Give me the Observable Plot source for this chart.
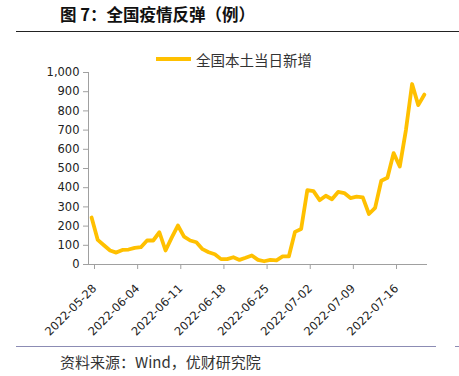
<!DOCTYPE html>
<html><head><meta charset="utf-8">
<script src="https://cdn.jsdelivr.net/npm/d3@7"></script>
<script src="https://cdn.jsdelivr.net/npm/@observablehq/plot@0.6"></script>
<style>
body{margin:0;background:#fff;}
#wrap{position:relative;width:459px;height:376px;overflow:hidden;font-family:"Noto Sans CJK SC",sans-serif;}
#title{position:absolute;left:60px;top:3px;font-size:16.5px;font-weight:bold;color:#111;line-height:22px;white-space:nowrap;}
#rule1{position:absolute;left:16px;top:31px;width:443px;height:0;border-top:1px solid #222;}
#legend{position:absolute;left:156px;top:49px;height:20px;display:flex;align-items:center;font-size:14.5px;color:#333;white-space:nowrap;}
#legend .sw{width:35px;height:3.5px;background:#FFC000;margin-right:5px;}
#chart{position:absolute;left:0;top:40px;}
#rule2{position:absolute;left:16px;top:346px;width:420px;height:0;border-top:1.5px solid #8c8cb4;}
#rule3{position:absolute;left:455px;top:346px;width:4px;height:0;border-top:1.5px solid #8c8cb4;}
#caption{position:absolute;left:60px;top:352px;font-size:15px;color:#333;line-height:20px;white-space:nowrap;}
</style></head><body>
<div id="wrap">
  <div id="title">图 7：全国疫情反弹（例）</div>
  <div id="rule1"></div>
  <div id="legend"><div class="sw"></div><span id="legendLabel"></span></div>
  <div id="chart"></div>
  <div id="rule2"></div>
  <div id="rule3"></div>
  <div id="caption">资料来源：Wind，优财研究院</div>
</div>
<script>
const seriesName = "全国本土当日新增";
const startDate = "2022-05-28";
const endDate = "2022-07-22";
const values = [245,128,100,73,62,76,78,87,90,125,125,168,73,140,203,145,125,116,80,64,53,28,28,38,24,35,47,24,17,24,22,42,42,170,185,387,382,335,358,340,378,372,346,353,350,263,295,436,452,580,510,700,940,830,885];
const xTickLabels = ["2022-05-28","2022-06-04","2022-06-11","2022-06-18","2022-06-25","2022-07-02","2022-07-09","2022-07-16"];
const yTicks = [0,100,200,300,400,500,600,700,800,900,1000];

document.getElementById("legendLabel").textContent = seriesName;

const parse = d3.utcParse("%Y-%m-%d");
const days = d3.utcDay.range(parse(startDate), parse(endDate));
const data = values.map((v, i) => ({date: d3.utcHour.offset(days[i], 12), value: v}));
const xTicks = xTickLabels.map(parse);

const chart = Plot.plot({
  width: 459, height: 306,
  marginLeft: 88, marginRight: 32, marginTop: 32, marginBottom: 82,
  x: {type: "utc", domain: [parse(startDate), parse(endDate)]},
  y: {domain: [0, 1000]},
  style: {fontFamily: "DejaVu Sans, sans-serif", fontSize: "11.5px", color: "#333", background: "transparent"},
  marks: [
    Plot.axisY({ticks: yTicks, tickFormat: d3.format(","), tickSize: 5, tickPadding: 4, stroke: "#a0a0a0", fill: "#222", label: null}),
    Plot.axisX({ticks: xTicks, tickFormat: d3.utcFormat("%Y-%m-%d"), tickRotate: -45, tickSize: 5, tickPadding: 17, dx: 6, stroke: "#a0a0a0", fill: "#222", label: null}),
    Plot.ruleX([parse(startDate)], {stroke: "#a0a0a0"}),
    Plot.ruleY([0], {stroke: "#a0a0a0"}),
    Plot.line(data, {x: "date", y: "value", stroke: "#FFC000", strokeWidth: 3.8, strokeLinejoin: "round", strokeLinecap: "round"})
  ]
});
document.getElementById("chart").appendChild(chart);
</script>
</body></html>
